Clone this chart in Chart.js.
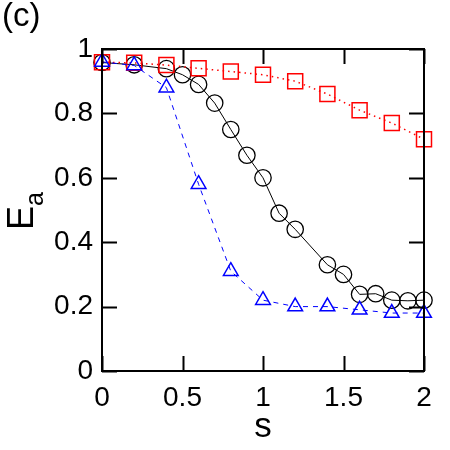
<!DOCTYPE html>
<html>
<head>
<meta charset="utf-8">
<script src="https://cdn.jsdelivr.net/npm/chart.js@4.4.1/dist/chart.umd.min.js"></script>
<style>
  html, body { margin: 0; padding: 0; background: #fff; }
</style>
</head>
<body>
<canvas id="chart" width="450" height="450"></canvas>
<script>
// data
const circleX = [0, 0.2, 0.4, 0.5, 0.6, 0.7, 0.8, 0.9, 1.0, 1.1, 1.2, 1.4, 1.5, 1.6, 1.7, 1.8, 1.9, 2.0];
const circleY = [0.958, 0.951, 0.939, 0.92, 0.89, 0.832, 0.75, 0.67, 0.60, 0.49, 0.44, 0.33, 0.30, 0.238, 0.24, 0.22, 0.218, 0.22];

const squareX = [0, 0.2, 0.4, 0.6, 0.8, 1.0, 1.2, 1.4, 1.6, 1.8, 2.0];
const squareY = [0.959, 0.957, 0.95, 0.94, 0.93, 0.92, 0.90, 0.86, 0.81, 0.77, 0.72];

const triangleX = [0, 0.2, 0.4, 0.6, 0.8, 1.0, 1.2, 1.4, 1.6, 1.8, 2.0];
const triangleY = [0.96, 0.949, 0.88, 0.58, 0.31, 0.22, 0.20, 0.20, 0.19, 0.18, 0.18];

const xTicks = [0, 0.5, 1, 1.5, 2];
const yTicks = [0, 0.2, 0.4, 0.6, 0.8, 1];

const FONT = "'Liberation Sans', Arial, Helvetica, sans-serif";

function pts(xs, ys) {
  return xs.map((x, i) => ({ x: x, y: ys[i] }));
}

// frame, inward ticks on all sides, axis titles and panel label
const framePlugin = {
  id: "frame",
  afterDraw(chart) {
    const ctx = chart.ctx;
    const a = chart.chartArea;
    const xs = chart.scales.x;
    const ys = chart.scales.y;
    const tl = 15;
    ctx.save();
    ctx.strokeStyle = "#000";
    ctx.lineWidth = 2;
    ctx.strokeRect(a.left, a.top, a.right - a.left, a.bottom - a.top);
    ctx.beginPath();
    xTicks.forEach(v => {
      const px = Math.round(xs.getPixelForValue(v)) + 0.5;
      ctx.moveTo(px, a.bottom);
      ctx.lineTo(px, a.bottom - tl);
      ctx.moveTo(px, a.top);
      ctx.lineTo(px, a.top + tl);
    });
    yTicks.forEach(v => {
      const py = Math.round(ys.getPixelForValue(v)) + 0.5;
      ctx.moveTo(a.left, py);
      ctx.lineTo(a.left + tl, py);
      ctx.moveTo(a.right, py);
      ctx.lineTo(a.right - tl, py);
    });
    ctx.stroke();

    ctx.fillStyle = "#000";
    // x title
    ctx.font = "35px " + FONT;
    ctx.textAlign = "center";
    ctx.textBaseline = "alphabetic";
    ctx.fillText("s", (a.left + a.right) / 2, 437);

    // y title E_a
    ctx.save();
    ctx.translate(33, 230);
    ctx.rotate(-Math.PI / 2);
    ctx.textAlign = "left";
    ctx.font = "36px " + FONT;
    const w = ctx.measureText("E").width;
    ctx.fillText("E", 0, 0);
    ctx.font = "25px " + FONT;
    ctx.fillText("a", w, 10);
    ctx.restore();

    // panel label
    ctx.font = "33px " + FONT;
    ctx.textAlign = "left";
    ctx.fillText("(c)", 2, 26);
    ctx.restore();
  }
};

new Chart(document.getElementById("chart"), {
  type: "scatter",
  data: {
    datasets: [
      {
        data: pts(triangleX, triangleY),
        showLine: true,
        clip: false,
        borderColor: "#0000ff",
        borderWidth: 1,
        borderDash: [5, 5],
        pointStyle: "triangle",
        pointRadius: 8.5,
        pointBorderWidth: 1.5,
        pointBorderColor: "#0000ff",
        pointBackgroundColor: "rgba(0,0,0,0)",
        order: 1
      },
      {
        data: pts(squareX, squareY),
        showLine: true,
        clip: false,
        borderColor: "#ff0000",
        borderWidth: 1.5,
        borderDash: [1.5, 4],
        pointStyle: "rect",
        pointRadius: 10.6,
        pointBorderWidth: 1.5,
        pointBorderColor: "#ff0000",
        pointBackgroundColor: "rgba(0,0,0,0)",
        order: 2
      },
      {
        data: pts(circleX, circleY),
        showLine: true,
        clip: false,
        borderColor: "#000",
        borderWidth: 1,
        pointStyle: "circle",
        pointRadius: 8.2,
        pointBorderWidth: 1.3,
        pointBorderColor: "#000",
        pointBackgroundColor: "rgba(0,0,0,0)",
        order: 3
      }
    ]
  },
  options: {
    responsive: false,
    animation: false,
    layout: { padding: { top: 49, right: 26, left: 0, bottom: 0 } },
    plugins: {
      legend: { display: false },
      tooltip: { enabled: false }
    },
    scales: {
      x: {
        type: "linear",
        min: 0,
        max: 2,
        afterFit(scale) { scale.height = 79; },
        afterBuildTicks(scale) { scale.ticks = xTicks.map(v => ({ value: v })); },
        grid: { display: false, drawTicks: false },
        border: { display: false },
        ticks: {
          color: "#000",
          padding: 10,
          autoSkip: false,
          maxRotation: 0,
          font: { family: FONT, size: 28 },
          callback: v => String(v)
        }
      },
      y: {
        type: "linear",
        min: 0,
        max: 1,
        afterFit(scale) { scale.width = 102; },
        afterBuildTicks(scale) { scale.ticks = yTicks.map(v => ({ value: v })); },
        grid: { display: false, drawTicks: false },
        border: { display: false },
        ticks: {
          color: "#000",
          padding: 9,
          autoSkip: false,
          font: { family: FONT, size: 28 },
          callback: v => String(v)
        }
      }
    }
  },
  plugins: [framePlugin]
});
</script>
</body>
</html>
